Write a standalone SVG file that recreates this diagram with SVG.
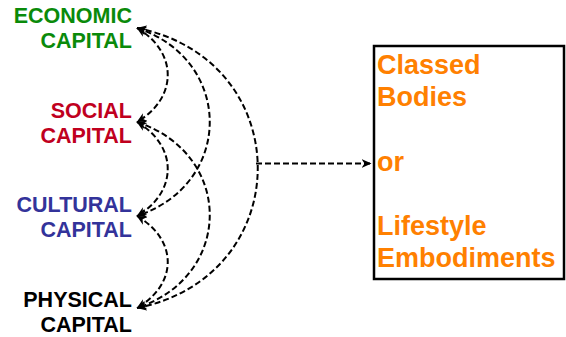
<svg xmlns="http://www.w3.org/2000/svg" width="566" height="337" viewBox="0 0 566 337">
  <defs>
    <marker id="head" viewBox="0 0 10 10" refX="9.5" refY="5" markerWidth="10" markerHeight="10" markerUnits="userSpaceOnUse" orient="auto-start-reverse">
      <path d="M0,0.5 L10,5 L0,9.5 L3,5 z" fill="#000"/>
    </marker>
    <style>
      .cap { font-family: "Liberation Sans", Arial, sans-serif; font-weight: bold; font-size: 21.5px; text-anchor: end; }
      .out { font-family: "Liberation Sans", Arial, sans-serif; font-weight: bold; font-size: 27px; fill: #ff8000; }
      .link { fill: none; stroke: #000; stroke-width: 2; stroke-dasharray: 6 3; }
    </style>
  </defs>
  <rect width="566" height="337" fill="#fff"/>

  <g id="economic">
    <text class="cap" fill="#0a8a0a"><tspan x="132" y="23">ECONOMIC</tspan><tspan x="132" y="48">CAPITAL</tspan></text>
  </g>
  <g id="social">
    <text class="cap" fill="#c0001e"><tspan x="132" y="118">SOCIAL</tspan><tspan x="132" y="143">CAPITAL</tspan></text>
  </g>
  <g id="cultural">
    <text class="cap" fill="#33339a"><tspan x="132" y="212">CULTURAL</tspan><tspan x="132" y="237">CAPITAL</tspan></text>
  </g>
  <g id="physical">
    <text class="cap" fill="#000"><tspan x="132" y="307">PHYSICAL</tspan><tspan x="132" y="332">CAPITAL</tspan></text>
  </g>

  <g id="outcome">
    <rect x="374" y="46" width="190" height="233" fill="#fff" stroke="#000" stroke-width="2.5"/>
    <text class="out">
      <tspan x="377" y="74">Classed</tspan>
      <tspan x="377" y="106">Bodies</tspan>
      <tspan x="377" y="171">or</tspan>
      <tspan x="377" y="235">Lifestyle</tspan>
      <tspan x="377" y="267">Embodiments</tspan>
    </text>
  </g>

  <g id="connectors">
    <!-- neighbouring capitals -->
    <path class="link" d="M137,28 C178,52 178,98 137,122" marker-start="url(#head)" marker-end="url(#head)"/>
    <path class="link" d="M137,122 C178,146 178,192 137,216" marker-start="url(#head)" marker-end="url(#head)"/>
    <path class="link" d="M137,216 C178,240 178,284 137,308" marker-start="url(#head)" marker-end="url(#head)"/>
    <!-- one capital apart -->
    <path class="link" d="M137,28 C234,60 234,184 137,216" marker-start="url(#head)" marker-end="url(#head)"/>
    <path class="link" d="M137,122 C234,154 234,276 137,308" marker-start="url(#head)" marker-end="url(#head)"/>
    <!-- outermost -->
    <path class="link" d="M137,28 C298,60 298,276 137,308" marker-start="url(#head)" marker-end="url(#head)"/>
    <!-- conversion into the outcome box -->
    <path class="link" d="M256,163.5 L371,163.5" stroke-width="2.2" marker-end="url(#head)"/>
  </g>
</svg>
